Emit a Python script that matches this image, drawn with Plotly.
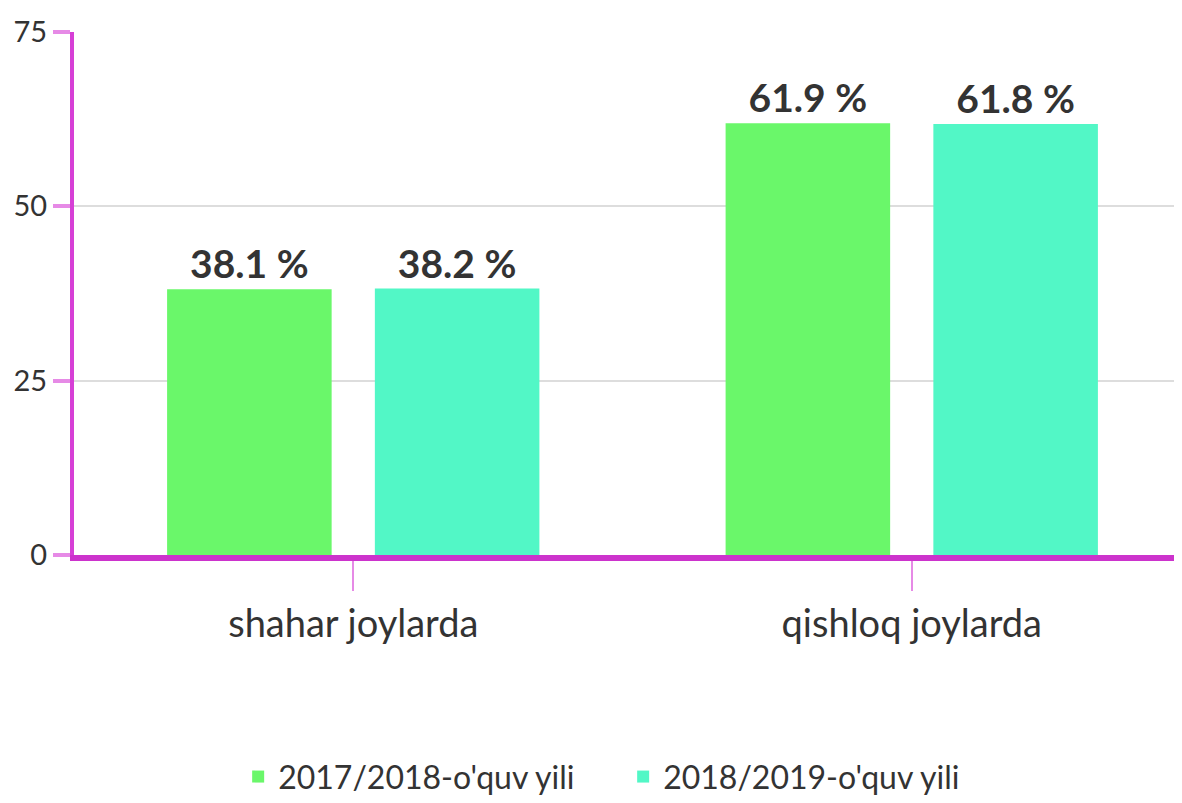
import plotly.graph_objects as go

categories = ["shahar joylarda", "qishloq joylarda"]
series_names = ["2017/2018-o'quv yili", "2018/2019-o'quv yili"]
values_2017 = [38.1, 61.9]
values_2018 = [38.2, 61.8]
colors = ["#6af76a", "#52f7c6"]
y_ticks = [0, 25, 50, 75]

fig = go.Figure()
for name, vals, col in zip(series_names, [values_2017, values_2018], colors):
    fig.add_trace(go.Bar(
        x=categories, y=vals, name=name,
        marker=dict(color=col, line=dict(width=0)),
        text=[f"<b>{v} %</b>" for v in vals],
        textposition="outside",
        textfont=dict(family="Lato", size=39, color="#333333"),
        cliponaxis=False,
    ))

fig.update_layout(
    width=1183, height=795,
    margin=dict(l=66, r=0, t=24, b=248, autoexpand=False),
    paper_bgcolor="white", plot_bgcolor="white",
    barmode="group", bargap=0.256, bargroupgap=0.208,
    font=dict(family="Lato", color="#333333"),
    legend=dict(
        orientation="h", xref="container", yref="container",
        x=0.520, xanchor="center", y=0.033, yanchor="middle",
        font=dict(family="Lato", size=32, color="#333333"),
        itemwidth=30, entrywidth=340, entrywidthmode="pixels",
        traceorder="normal",
    ),
    showlegend=True,
)
fig.update_yaxes(
    range=[0, 75], tickvals=y_ticks, showgrid=True, gridcolor="#dddddd", gridwidth=2,
    showline=True, linecolor="#d63fd6", linewidth=4,
    ticks="outside", ticklen=17, tickwidth=4, tickcolor="#e68ae6",
    tickfont=dict(family="Lato", size=29, color="#333333"),
    ticklabelstandoff=0, zeroline=False, automargin=False,
)
fig.update_xaxes(
    showline=True, linecolor="#cc33cc", linewidth=6,
    ticks="outside", ticklen=30, tickwidth=2, tickcolor="#e68ae6",
    tickfont=dict(family="Lato", size=38, color="#333333"),
    automargin=False,
)

fig.write_html("out.html")
